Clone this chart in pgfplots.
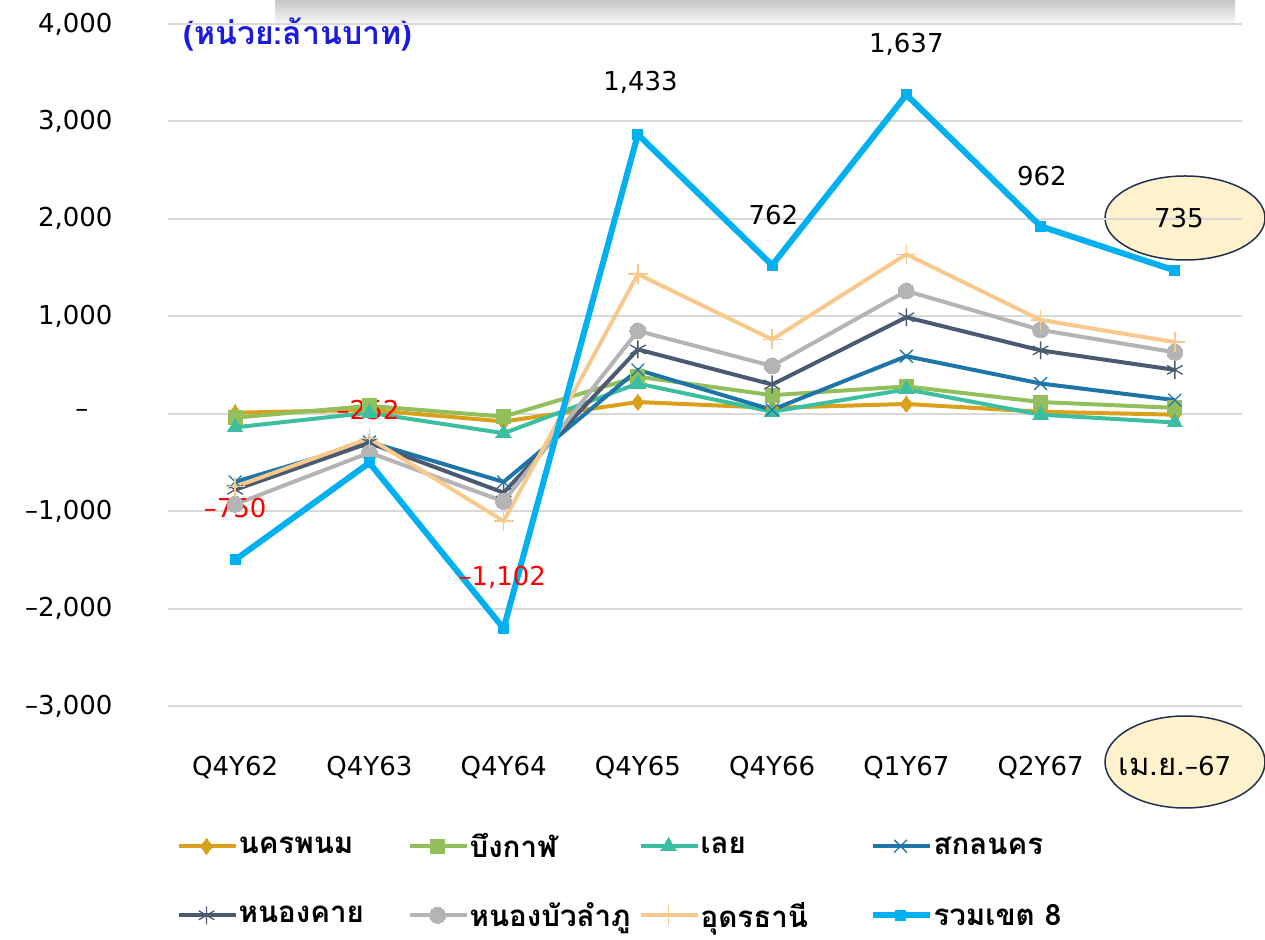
\documentclass[border=0pt]{standalone}
\usepackage{pgfplots}
\pgfplotsset{compat=1.18}
\usepackage{fontspec}
\setmainfont{DejaVu Sans}
\newfontfamily\thai[Script=Thai]{Loma}
\definecolor{cNP}{HTML}{D9A01A}
\definecolor{cBK}{HTML}{92BF5B}
\definecolor{cLY}{HTML}{3CBFA0}
\definecolor{cSK}{HTML}{1D75A8}
\definecolor{cNK}{HTML}{4B5A70}
\definecolor{cNB}{HTML}{B4B4B4}
\definecolor{cUD}{HTML}{F8C98C}
\definecolor{cTot}{HTML}{00B0F0}
\definecolor{cEll}{HTML}{FFF2CC}
\definecolor{cEllB}{HTML}{1F3050}
\definecolor{cTitle}{RGB}{26,26,225}
\newcommand{\LE}[1]{\makebox[168pt][l]{#1}}
\begin{document}
\begin{tikzpicture}[x=1pt,y=1pt]
\path[use as bounding box] (0,0) rectangle (1265,939);
\shade[top color=black!22, bottom color=white] (275,939) rectangle (1235,912);
\draw[cEllB, line width=1.5pt, fill=cEll] (1185,721) ellipse [x radius=80, y radius=42];
\draw[cEllB, line width=1.5pt, fill=cEll] (1185,177) ellipse [x radius=80, y radius=46];
\node[anchor=west, text=cTitle, font=\thai\bfseries\fontsize{32}{36}\selectfont] at (180,904) {(หน่วย:ล้านบาท)};
\begin{axis}[
  at={(168pt,233pt)}, anchor=south west,
  scale only axis, width=1074pt, height=682pt,
  xmin=-0.5, xmax=7.5, ymin=-3000, ymax=4000,
  axis line style={draw=none},
  major tick length=0pt,
  ymajorgrids, grid style={draw=black!15, line width=2pt},
  xtick={0,...,7},
  xticklabels={Q4Y62,Q4Y63,Q4Y64,Q4Y65,Q4Y66,Q1Y67,Q2Y67,{{\thai\fontsize{31}{34}\selectfont เม.ย.}–67}},
  ytick={-3000,-2000,-1000,0,1000,2000,3000,4000},
  yticklabels={{–3,000},{–2,000},{–1,000},{–\hspace*{24pt}},{1,000},{2,000},{3,000},{4,000}},
  tick label style={font=\fontsize{26}{30}\selectfont},
  yticklabel style={xshift=-52pt},
  xticklabel style={yshift=-47pt},
  clip=false,
  legend columns=4,
  legend cell align=left,
  legend style={draw=none, fill=none, at={(0.005,-0.182)}, anchor=north west,
    font=\thai\bfseries\fontsize{29.5}{33}\selectfont,
    nodes={inner sep=1pt},
    row sep=41pt},
  legend image code/.code={\draw[mark repeat=2,mark phase=2,#1] plot coordinates {(0pt,0pt) (28pt,0pt) (57pt,0pt)};},
]
\addplot[cNP, line width=4pt, mark=diamond*, mark size=8pt, mark options={line width=0pt}] coordinates {(0,10) (1,40) (2,-80) (3,120) (4,60) (5,100) (6,20) (7,-10)};
\addlegendentry{\LE{นครพนม}}
\addplot[cBK, line width=4pt, mark=square*, mark size=7pt, mark options={line width=0pt}] coordinates {(0,-40) (1,80) (2,-30) (3,380) (4,190) (5,280) (6,120) (7,60)};
\addlegendentry{\LE{บึงกาฬ}}
\addplot[cLY, line width=4pt, mark=triangle*, mark size=9pt, mark options={line width=0pt}] coordinates {(0,-140) (1,10) (2,-200) (3,310) (4,20) (5,250) (6,-10) (7,-90)};
\addlegendentry{\LE{เลย}}
\addplot[cSK, line width=4pt, mark=x, mark size=9pt, mark options={line width=1.3pt}] coordinates {(0,-700) (1,-290) (2,-700) (3,450) (4,40) (5,590) (6,310) (7,140)};
\addlegendentry{\LE{สกลนคร}}
\addplot[cNK, line width=4pt, mark=asterisk, mark size=9pt, mark options={line width=1.3pt}] coordinates {(0,-780) (1,-300) (2,-810) (3,660) (4,300) (5,990) (6,650) (7,450)};
\addlegendentry{\LE{หนองคาย}}
\addplot[cNB, line width=4pt, mark=*, mark size=8pt, mark options={line width=0pt}] coordinates {(0,-930) (1,-400) (2,-900) (3,850) (4,490) (5,1260) (6,860) (7,630)};
\addlegendentry{\LE{หนองบัวลำภู}}
\addplot[cUD, line width=4pt, mark=+, mark size=10pt, mark options={line width=1.3pt}] coordinates {(0,-750) (1,-252) (2,-1102) (3,1433) (4,762) (5,1637) (6,962) (7,735)};
\addlegendentry{\LE{อุดรธานี}}
\addplot[cTot, line width=6pt, mark=square*, mark size=5pt, mark options={line width=0pt}] coordinates {(0,-1500) (1,-504) (2,-2204) (3,2866) (4,1524) (5,3274) (6,1924) (7,1470)};
\addlegendentry{\LE{รวมเขต 8}}
\node[red, font=\fontsize{26}{30}\selectfont] at (axis cs:0,-965) {–750};
\node[red, font=\fontsize{26}{30}\selectfont] at (axis cs:0.99,41) {–252};
\node[red, font=\fontsize{26}{30}\selectfont] at (axis cs:1.99,-1684) {–1,102};
\node[font=\fontsize{26}{30}\selectfont] at (axis cs:3.02,3398) {1,433};
\node[font=\fontsize{26}{30}\selectfont] at (axis cs:4.01,2043) {762};
\node[font=\fontsize{26}{30}\selectfont] at (axis cs:5.0,3789) {1,637};
\node[font=\fontsize{26}{30}\selectfont] at (axis cs:6.01,2444) {962};
\node[font=\fontsize{26}{30}\selectfont] at (axis cs:7.03,2012) {735};
\end{axis}
\end{tikzpicture}
\end{document}
